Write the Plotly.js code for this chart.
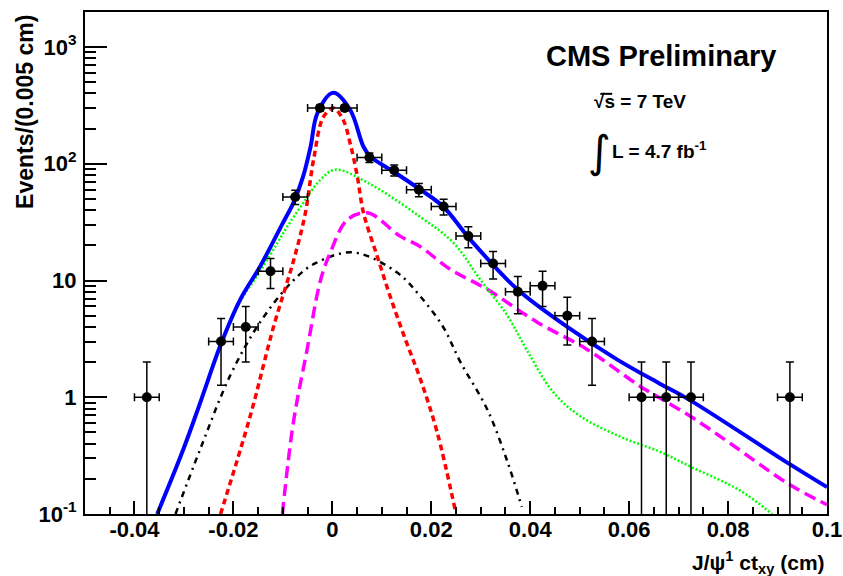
<!DOCTYPE html>
<html>
<head>
<meta charset="utf-8">
<script src="https://cdn.plot.ly/plotly-3.0.1.min.js"></script>
<style>html,body{margin:0;padding:0;background:#fff;}#chart{width:843px;height:576px;}</style>
</head>
<body>
<div id="chart"></div>
<script>
// ---- data points (counts per 0.005 cm bin) ----
const dataX = [-0.0375,-0.0225,-0.0175,-0.0125,-0.0075,-0.0025,0.0025,0.0075,0.0125,0.0175,0.0225,0.0275,0.0325,0.0375,0.0425,0.0475,0.0525,0.0625,0.0675,0.0725,0.0925];
const dataY = [1,3,4,12,52,300,300,113,88,60,43,24,14,8,9,5,3,1,1,1,1];
const errUp = [1,1.73,2,3.46,7.2,17.3,17.3,10.6,9.4,7.7,6.6,4.9,3.7,2.8,3,2.2,1.73,1,1,1,1];
const errDown = [0.999,1.73,2,3.46,7.2,17.3,17.3,10.6,9.4,7.7,6.6,4.9,3.7,2.8,3,2.2,1.73,0.999,0.999,0.999,0.999];
const binHalf = [0.0025,0.0025,0.0025,0.0025,0.0025,0.0025,0.0025,0.0025,0.0025,0.0025,0.0025,0.0025,0.0025,0.0025,0.0025,0.0025,0.0025,0.0025,0.0025,0.0025,0.0025];

// ---- total fit (blue) ----
const totalX = [-0.0354,-0.0301,-0.0267,-0.0226,-0.0186,-0.0146,-0.0102,-0.0079,-0.0059,-0.0044,-0.003,0.0002,0.0036,0.0063,0.0077,0.0123,0.0178,0.0224,0.0279,0.0374,0.0475,0.0576,0.0663,0.0722,0.0923,0.1];
const totalY = [0.1,0.36,0.9,2.8,6.9,13.2,30,46,78,140,272,405,290,140,115,86,60,43,22.4,8.4,4.0,2.1,1.3,0.95,0.27,0.17];

// ---- prompt component (red) ----
const promptX = [-0.0226,-0.0166,-0.0119,-0.0079,-0.0055,-0.0038,-0.0018,0.0002,0.0022,0.0036,0.005,0.0063,0.0091,0.0117,0.0148,0.0178,0.0212,0.0248];
const promptY = [0.1,0.69,4.0,14.5,37,108,252,300,237,150,80,38,16,7.3,3.1,1.43,0.5,0.11];

// ---- green component ----
const greenX = [-0.0354,-0.0301,-0.0267,-0.0226,-0.0186,-0.0146,-0.0111,-0.0091,-0.0059,-0.0024,0.0006,0.0071,0.0178,0.0245,0.0299,0.0354,0.0394,0.0447,0.0501,0.0582,0.0663,0.0728,0.0823,0.0889];
const greenY = [0.1,0.36,0.9,2.75,6.6,12,21,29,46,73,89,69,35,21,10.2,5.0,2.5,1.1,0.69,0.46,0.34,0.25,0.16,0.1];

// ---- magenta component ----
const magX = [-0.0101,-0.0079,-0.0051,-0.0024,-0.0004,0.003,0.0071,0.0137,0.0178,0.0238,0.0313,0.0414,0.0515,0.0621,0.0663,0.0728,0.0809,0.0923,0.1];
const magY = [0.1,0.6,2.57,10,17.4,33,38,24,19.5,12.5,8.4,4.4,2.57,1.25,0.98,0.67,0.39,0.18,0.12];

// ---- black component ----
const blkX = [-0.0317,-0.0267,-0.0206,-0.0146,-0.0079,-0.0035,0.0042,0.0131,0.0178,0.0224,0.0259,0.0313,0.0354,0.0383];
const blkY = [0.1,0.36,1.55,4.4,10,14,17.4,11.7,7.3,4.0,2.0,0.79,0.28,0.115];

// ---- tick labels ----
const xTickVals = [-0.04,-0.02,0,0.02,0.04,0.06,0.08,0.1];
const xTickText = ['-0.04','-0.02','0','0.02','0.04','0.06','0.08','0.1'];
const xMinorVals = [-0.045,-0.035,-0.03,-0.025,-0.015,-0.01,-0.005,0.005,0.01,0.015,0.025,0.03,0.035,0.045,0.05,0.055,0.065,0.07,0.075,0.085,0.09,0.095];
const yTickVals = [0.1,1,10,100,1000];
const yTickText = ['10<sup>-1</sup>','1','10','10<sup>2</sup>','10<sup>3</sup>'];
const yMinorVals = [0.2,0.3,0.4,0.5,0.6,0.7,0.8,0.9,2,3,4,5,6,7,8,9,20,30,40,50,60,70,80,90,200,300,400,500,600,700,800,900];

const F = 'Liberation Sans, Arial, Helvetica, sans-serif';
const TICKC = 'black';

const traces = [
  {x: blkX, y: blkY, mode:'lines', line:{color:'black', width:2.5, dash:'6px,5px,2px,5px', shape:'spline'}, hoverinfo:'skip'},
  {x: magX, y: magY, mode:'lines', line:{color:'#ff00ff', width:3.5, dash:'12px,6px', shape:'spline'}, hoverinfo:'skip'},
  {x: greenX, y: greenY, mode:'lines', line:{color:'#00ff00', width:2.5, dash:'2px,2px', shape:'spline'}, hoverinfo:'skip'},
  {x: promptX, y: promptY, mode:'lines', line:{color:'#ff0000', width:3.5, dash:'6px,4px', shape:'spline'}, hoverinfo:'skip'},
  {x: totalX, y: totalY, mode:'lines', line:{color:'#0000ff', width:4, shape:'spline'}, hoverinfo:'skip'},
  {x: dataX, y: dataY, mode:'markers', marker:{color:'black', size:10},
   error_y:{type:'data', symmetric:false, array:errUp, arrayminus:errDown, color:'black', thickness:1.5, width:4},
   error_x:{type:'data', array:binHalf, color:'black', thickness:1.5, width:4}}
];

const layout = {
  width:843, height:576,
  margin:{l:85, r:16, t:12, b:62},
  paper_bgcolor:'white', plot_bgcolor:'white',
  showlegend:false,
  font:{family:F, color:'black'},
  xaxis:{
    range:[-0.05,0.1], showgrid:false, zeroline:false,
    showline:true, linecolor:'black', linewidth:2, mirror:true,
    ticks:'inside', ticklen:13, tickwidth:2, tickcolor:TICKC,
    tickmode:'array', tickvals:xTickVals, ticktext:xTickText,
    tickfont:{family:F, size:22, weight:'bold'},
    ticklabelstandoff:-5,
    minor:{ticks:'inside', ticklen:7, tickwidth:2, tickcolor:TICKC, tickmode:'array', tickvals:xMinorVals, showgrid:false}
  },
  yaxis:{
    type:'log', range:[-1,3.3], showgrid:false, zeroline:false,
    showline:true, linecolor:'black', linewidth:2, mirror:true,
    ticks:'inside', ticklen:22, tickwidth:2, tickcolor:TICKC,
    tickmode:'array', tickvals:yTickVals, ticktext:yTickText,
    tickfont:{family:F, size:22, weight:'bold'},
    ticklabelstandoff:2,
    minor:{ticks:'inside', ticklen:11, tickwidth:2, tickcolor:TICKC, tickmode:'array', tickvals:yMinorVals, showgrid:false}
  },
  shapes:[
    {type:'line', xref:'paper', yref:'paper', x0:0.6945, x1:0.7105, y0:0.837, y1:0.837, line:{color:'black', width:2}}
  ],
  annotations:[
    {xref:'paper', yref:'paper', x:0.776, y:0.912, xanchor:'center', yanchor:'middle', showarrow:false,
     text:'CMS Preliminary', font:{family:F, size:29, weight:'bold'}},
    {xref:'paper', yref:'paper', x:0.683, y:0.821, xanchor:'left', yanchor:'middle', showarrow:false,
     text:'√s = 7 TeV', font:{family:F, size:19, weight:'bold'}},
    {xref:'paper', yref:'paper', x:0.694, y:0.722, xanchor:'center', yanchor:'middle', showarrow:false,
     text:'∫', font:{family:'DejaVu Sans, sans-serif', size:44}},
    {xref:'paper', yref:'paper', x:0.708, y:0.725, xanchor:'left', yanchor:'middle', showarrow:false,
     text:'L = 4.7 fb<sup>-1</sup>', font:{family:F, size:19, weight:'bold'}},
    {xref:'paper', yref:'paper', x:-0.081, y:0.998, xanchor:'center', yanchor:'top', showarrow:false, textangle:-90,
     text:'Events/(0.005 cm)', font:{family:F, size:23, weight:'bold'}},
    {xref:'paper', yref:'paper', x:1.0, y:-0.096, xanchor:'right', yanchor:'middle', showarrow:false,
     text:'J/ψ<sup>1</sup> ct<sub>xy</sub> (cm)', font:{family:F, size:21, weight:'bold'}}
  ]
};

Plotly.newPlot('chart', traces, layout, {staticPlot:true, displayModeBar:false});
</script>
</body>
</html>
